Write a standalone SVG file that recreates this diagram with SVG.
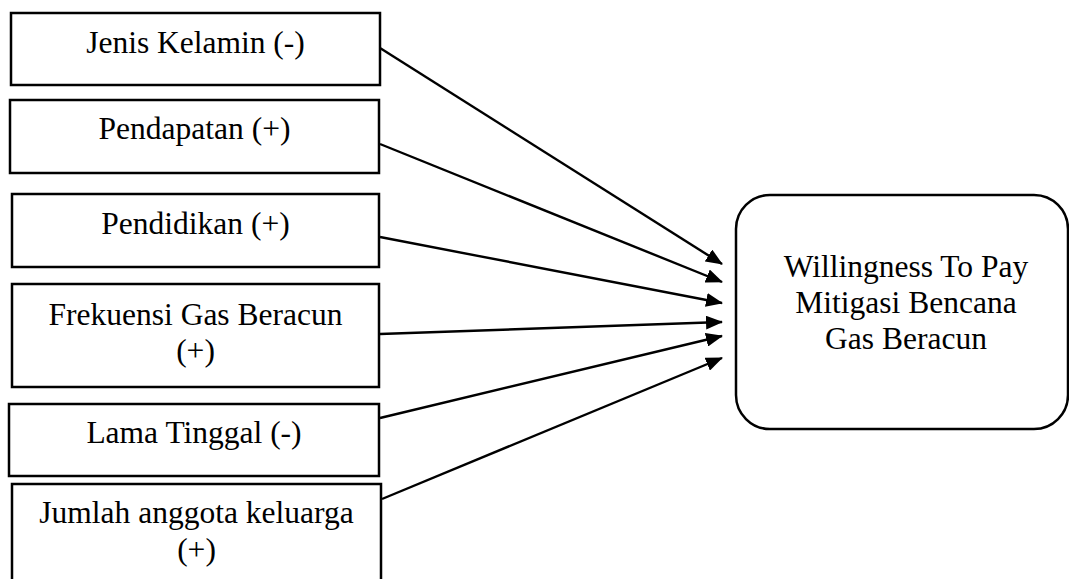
<svg xmlns="http://www.w3.org/2000/svg" width="1069" height="579" viewBox="0 0 1069 579">
<style>
.box{fill:#fff;stroke:#000;stroke-width:2.5}
.t{font-family:"Liberation Serif","Times New Roman",serif;font-size:31.5px;fill:#000;text-anchor:middle}
.c{fill:none;stroke:#000;stroke-width:2.4}
</style>
<defs>
<marker id="ah" markerUnits="userSpaceOnUse" markerWidth="18" markerHeight="14" refX="16" refY="7" orient="auto">
<path d="M0,0 L17,7 L0,14 Z" fill="#000"/>
</marker>
</defs>
<rect width="1069" height="579" fill="#fff"/>
<g id="n1"><rect class="box" x="11" y="13" width="369" height="72"/><text class="t" x="195.5" y="53">Jenis Kelamin (-)</text></g>
<g id="n2"><rect class="box" x="10" y="100" width="369" height="73"/><text class="t" x="194.5" y="139">Pendapatan (+)</text></g>
<g id="n3"><rect class="box" x="12" y="194" width="367" height="73"/><text class="t" x="195.5" y="234">Pendidikan (+)</text></g>
<g id="n4"><rect class="box" x="12" y="284" width="367" height="103"/><text class="t" x="195.5" y="325">Frekuensi Gas Beracun</text><text class="t" x="195.5" y="361">(+)</text></g>
<g id="n5"><rect class="box" x="9" y="404" width="370" height="72"/><text class="t" x="194" y="443">Lama Tinggal (-)</text></g>
<g id="n6"><rect class="box" x="12" y="484" width="369" height="100"/><text class="t" x="196.5" y="523">Jumlah anggota keluarga</text><text class="t" x="196.5" y="560">(+)</text></g>
<g id="n7"><rect class="box" x="736" y="195" width="332" height="234" rx="34" ry="34"/><text class="t" x="906" y="277">Willingness To Pay</text><text class="t" x="906" y="313">Mitigasi Bencana</text><text class="t" x="906" y="349">Gas Beracun</text></g>
<g id="connectors">
<line class="c" x1="380" y1="48" x2="722" y2="264" marker-end="url(#ah)"/>
<line class="c" x1="380" y1="144" x2="722" y2="282" marker-end="url(#ah)"/>
<line class="c" x1="380" y1="237" x2="722" y2="303" marker-end="url(#ah)"/>
<line class="c" x1="380" y1="334" x2="722" y2="322" marker-end="url(#ah)"/>
<line class="c" x1="380" y1="418" x2="722" y2="336" marker-end="url(#ah)"/>
<line class="c" x1="382" y1="499" x2="722" y2="358" marker-end="url(#ah)"/>
</g>
</svg>
